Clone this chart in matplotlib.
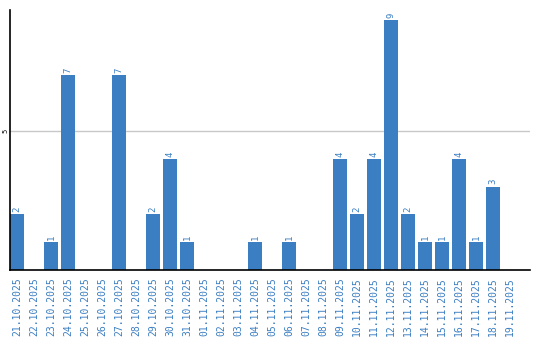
import matplotlib
matplotlib.use("Agg")
import matplotlib.pyplot as plt

dates = ["21.10.2025", "22.10.2025", "23.10.2025", "24.10.2025", "25.10.2025",
         "26.10.2025", "27.10.2025", "28.10.2025", "29.10.2025", "30.10.2025",
         "31.10.2025", "01.11.2025", "02.11.2025", "03.11.2025", "04.11.2025",
         "05.11.2025", "06.11.2025", "07.11.2025", "08.11.2025", "09.11.2025",
         "10.11.2025", "11.11.2025", "12.11.2025", "13.11.2025", "14.11.2025",
         "15.11.2025", "16.11.2025", "17.11.2025", "18.11.2025", "19.11.2025"]
values = [2, 0, 1, 7, 0, 0, 7, 0, 2, 4, 1, 0, 0, 0, 1, 0, 1, 0, 0, 4,
          2, 4, 9, 2, 1, 1, 4, 1, 3, 0]

blue = "#3b7ec2"
W, H = 540, 340
fig = plt.figure(figsize=(W / 100, H / 100), dpi=100)
ax = fig.add_axes([10 / W, 1 - 270 / H, 520 / W, 260 / H])

x = list(range(len(dates)))
bw = 14 / 17
ax.bar(x, values, width=bw, color=blue, zorder=2)
for xi, v in zip(x, values):
    if v > 0:
        ax.text(xi, v + 0.08, str(v), rotation=90, ha="center", va="bottom",
                color=blue, fontsize=6.5, family="DejaVu Sans Mono")

ax.set_xlim(-bw / 2, -bw / 2 + 520 / 17)
ax.set_ylim(0, 260 / 27.8)
ax.set_yticks([5])
ax.set_yticklabels(["5"], rotation=90, va="center", fontsize=5, family="DejaVu Sans Mono")
ax.tick_params(axis="y", length=0, pad=1)
ax.yaxis.grid(True, color="#c8c8c8", linewidth=1, zorder=0)
ax.set_xticks(x)
ax.set_xticklabels(dates, rotation=90, color=blue, fontsize=7, family="DejaVu Sans Mono")
ax.tick_params(axis="x", length=0, pad=5)
for s in ["top", "right"]:
    ax.spines[s].set_visible(False)
ax.spines["left"].set_linewidth(1.2)
ax.spines["bottom"].set_linewidth(1.2)
ax.spines["bottom"].set_zorder(3)

fig.savefig("out.png", dpi=100)
